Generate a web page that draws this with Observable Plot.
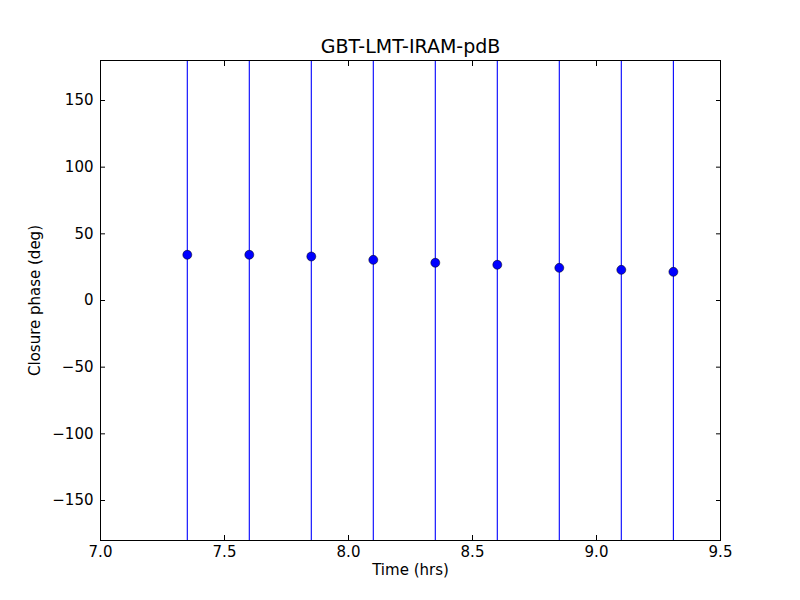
<!DOCTYPE html>
<html>
<head>
<meta charset="utf-8">
<script src="https://cdn.jsdelivr.net/npm/d3@7"></script>
<script src="https://cdn.jsdelivr.net/npm/@observablehq/plot@0.6"></script>
<style>
  html, body { margin: 0; padding: 0; background: white; }
</style>
</head>
<body>
<div id="chart"></div>
<script>
const title = "GBT-LMT-IRAM-pdB";
const times = [7.35, 7.6, 7.85, 8.1, 8.35, 8.6, 8.85, 9.1, 9.31];
const phases = [34.3, 34.3, 33.0, 30.5, 28.3, 26.8, 24.5, 23.0, 21.5];
const errors = [400, 400, 400, 400, 400, 400, 400, 400, 400];
const xTicks = [7.0, 7.5, 8.0, 8.5, 9.0, 9.5];
const yTicks = [-150, -100, -50, 0, 50, 100, 150];

const data = times.map((t, i) => ({t, p: phases[i], e: errors[i]}));

const chart = Plot.plot({
  width: 800,
  height: 600,
  marginLeft: 100,
  marginRight: 80,
  marginTop: 60,
  marginBottom: 60,
  style: {fontFamily: "DejaVu Sans", fontSize: "15px", background: "white", color: "black"},
  x: {domain: [7, 9.5]},
  y: {domain: [-180, 180]},
  marks: [
    Plot.ruleX(data, {x: "t", y1: d => d.p - d.e, y2: d => d.p + d.e, stroke: "#0000ff", strokeWidth: 1.1, clip: true}),
    Plot.dot(data, {x: "t", y: "p", r: 4.5, fill: "#0000ff", stroke: "black", strokeWidth: 0.5}),
    Plot.frame({stroke: "black", strokeWidth: 1}),
    Plot.axisX(xTicks, {anchor: "bottom", tickSize: -5, tickPadding: 11, tickFormat: d => d.toFixed(1),
      label: "Time (hrs)", labelAnchor: "center", labelArrow: "none", labelOffset: 34, fill: "black", stroke: "black"}),
    Plot.axisX(xTicks, {anchor: "top", tickSize: -5, tickFormat: () => null, label: null, stroke: "black"}),
    Plot.axisY(yTicks, {anchor: "left", tickSize: -5, tickPadding: 12, tickFormat: d => d.toString().replace("-", "\u2212"),
      label: "Closure phase (deg)", labelAnchor: "center", labelArrow: "none", labelOffset: 71, fill: "black", stroke: "black"}),
    Plot.axisY(yTicks, {anchor: "right", tickSize: -5, tickFormat: () => null, label: null, stroke: "black"}),
    Plot.text([title], {frameAnchor: "top", lineAnchor: "middle", dy: -14, fontSize: 19, fill: "black"})
  ]
});
document.getElementById("chart").appendChild(chart);
</script>
</body>
</html>
